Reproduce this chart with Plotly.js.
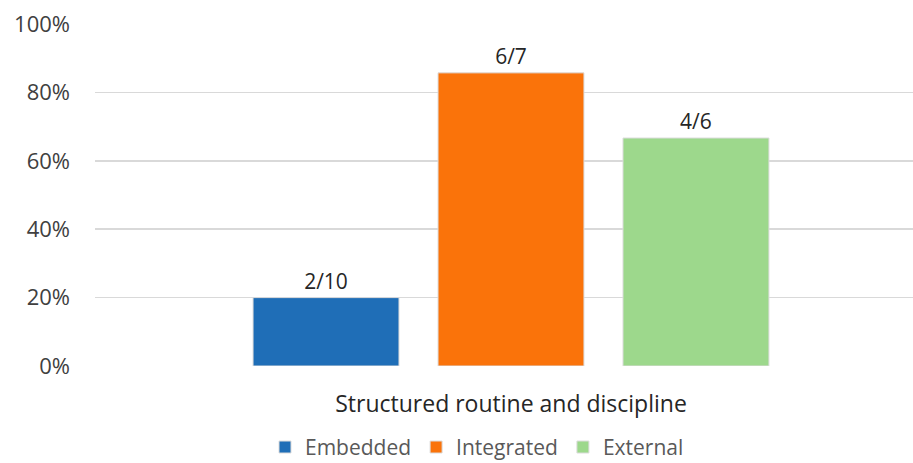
<!DOCTYPE html>
<html>
<head>
<meta charset="utf-8">
<script src="https://cdn.plot.ly/plotly-3.0.1.min.js"></script>
<style>
  html, body { margin: 0; padding: 0; background: #ffffff; }
  #chart { width: 913px; height: 463px; }
</style>
</head>
<body>
<div id="chart"></div>
<script>
// Share of each group meeting "Structured routine and discipline"
const categories = ["Structured routine and discipline"];
const seriesNames = ["Embedded", "Integrated", "External"];
const numerators = [2, 6, 4];
const denominators = [10, 7, 6];
const seriesColors = ["#1f6eb7", "#fa730a", "#9dd88c"];
const yTickValues = [0, 0.2, 0.4, 0.6, 0.8, 1.0];
const yTickLabels = ["0%", "20%", "40%", "60%", "80%", "100%"];

const FONT = "'Open Sans', Lato, sans-serif";

const traces = seriesNames.map((name, i) => ({
  type: "bar",
  name: name,
  x: categories,
  y: [numerators[i] / denominators[i]],
  text: [numerators[i] + "/" + denominators[i]],
  textposition: "outside",
  textfont: { family: FONT, size: 21, color: "#262626" },
  cliponaxis: false,
  marker: { color: seriesColors[i], line: { color: "#dcdcdc", width: 1 } },
  hoverinfo: "skip"
}));

const layout = {
  width: 913,
  height: 463,
  margin: { l: 95, r: 0, t: 24, b: 97, autoexpand: false },
  paper_bgcolor: "#ffffff",
  plot_bgcolor: "#ffffff",
  font: { family: FONT, color: "#404040" },
  barmode: "group",
  bargap: 0.333,
  bargroupgap: 0.211,
  showlegend: true,
  legend: {
    orientation: "h",
    x: 0.467, xanchor: "center",
    y: -0.178, yanchor: "top",
    font: { family: FONT, size: 21, color: "#595959" },
    itemclick: false
  },
  xaxis: {
    type: "category",
    range: [-0.5, 0.4832],
    showgrid: false,
    showline: false,
    zeroline: false,
    ticks: "",
    ticklabelstandoff: 22,
    tickfont: { family: FONT, size: 23, color: "#262626" },
    fixedrange: true
  },
  yaxis: {
    range: [0, 1],
    tickvals: yTickValues,
    ticktext: yTickLabels,
    showgrid: true,
    gridcolor: "#d9d9d9",
    gridwidth: 1.5,
    zeroline: false,
    showline: false,
    ticks: "",
    ticklabelstandoff: 24,
    tickfont: { family: FONT, size: 22, color: "#404040" },
    fixedrange: true
  }
};

Plotly.newPlot("chart", traces, layout, { staticPlot: true, displayModeBar: false });
</script>
</body>
</html>
